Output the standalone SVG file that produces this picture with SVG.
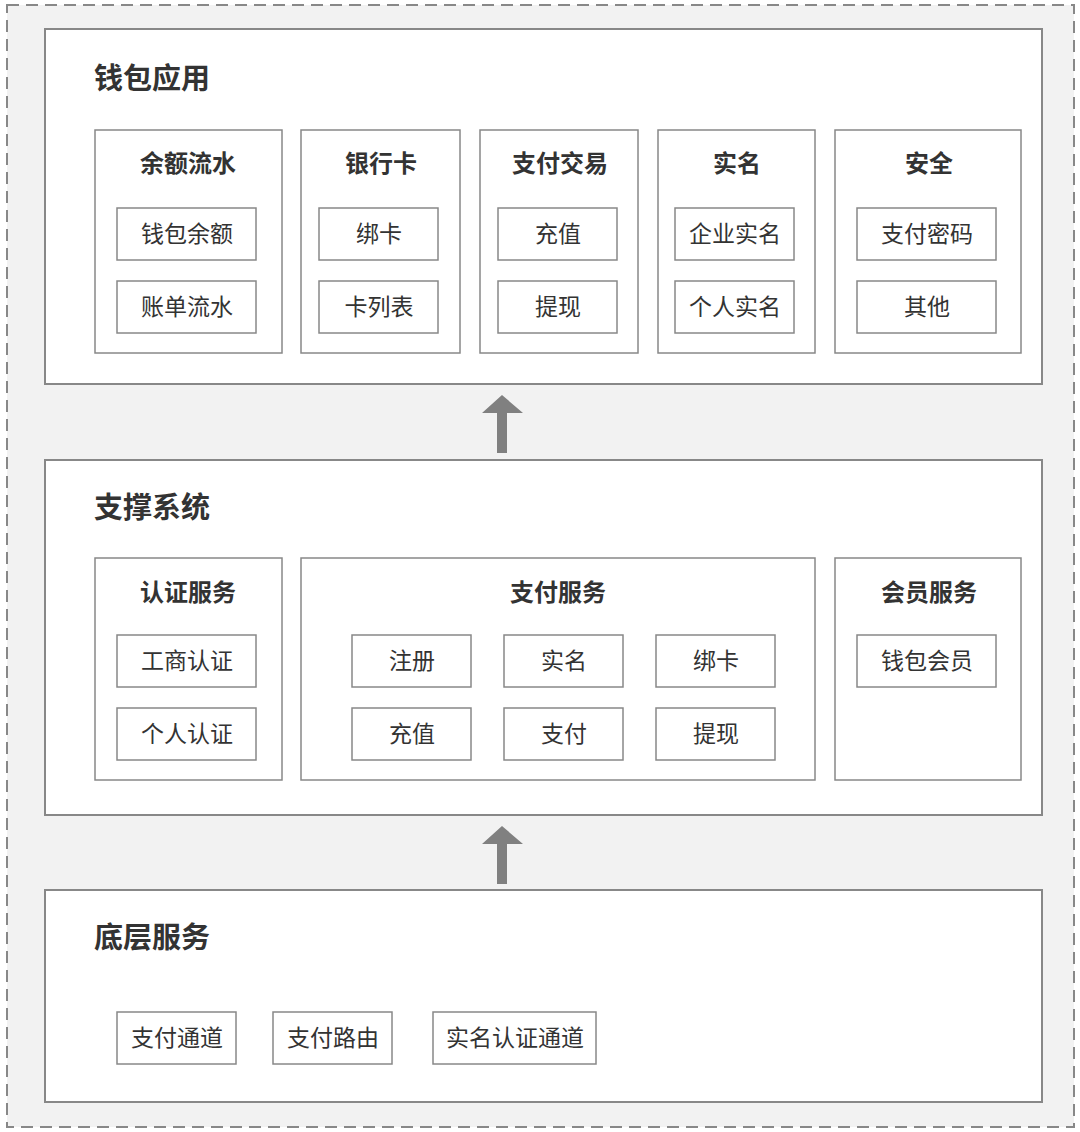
<svg xmlns="http://www.w3.org/2000/svg" width="1080" height="1132" viewBox="0 0 1080 1132">
<style>
.layer{fill:#fff;stroke:#888;stroke-width:2}
.grp{fill:#fff;stroke:#888;stroke-width:1.5}
.item{fill:#fff;stroke:#888;stroke-width:1.5}
text{font-family:"Noto Sans CJK SC",sans-serif;fill:#333;text-anchor:middle}
.lt{font-size:29px;font-weight:bold;text-anchor:start}
.gt{font-size:24px;font-weight:bold}
.it{font-size:23px}
.arr{fill:#808080}
</style>
<rect x="0" y="0" width="1080" height="1132" fill="#fff"/>
<rect x="7" y="5" width="1067" height="1122" fill="#f2f2f2" stroke="#888" stroke-width="2" stroke-dasharray="12,7"/>
<g id="app">
<rect class="layer" x="45" y="29" width="997" height="355"/>
<text class="lt" x="94" y="89">钱包应用</text>
<g id="g1"><rect class="grp" x="95" y="130" width="187" height="223"/><text class="gt" x="188" y="172">余额流水</text>
<rect class="item" x="117" y="208" width="139" height="52"/><text class="it" x="187" y="242">钱包余额</text>
<rect class="item" x="117" y="281" width="139" height="52"/><text class="it" x="187" y="315">账单流水</text></g>
<g id="g2"><rect class="grp" x="301" y="130" width="159" height="223"/><text class="gt" x="381" y="172">银行卡</text>
<rect class="item" x="319" y="208" width="119" height="52"/><text class="it" x="379" y="242">绑卡</text>
<rect class="item" x="319" y="281" width="119" height="52"/><text class="it" x="379" y="315">卡列表</text></g>
<g id="g3"><rect class="grp" x="480" y="130" width="158" height="223"/><text class="gt" x="560" y="172">支付交易</text>
<rect class="item" x="498" y="208" width="119" height="52"/><text class="it" x="558" y="242">充值</text>
<rect class="item" x="498" y="281" width="119" height="52"/><text class="it" x="558" y="315">提现</text></g>
<g id="g4"><rect class="grp" x="658" y="130" width="157" height="223"/><text class="gt" x="737" y="172">实名</text>
<rect class="item" x="675" y="208" width="119" height="52"/><text class="it" x="735" y="242">企业实名</text>
<rect class="item" x="675" y="281" width="119" height="52"/><text class="it" x="735" y="315">个人实名</text></g>
<g id="g5"><rect class="grp" x="835" y="130" width="186" height="223"/><text class="gt" x="929" y="172">安全</text>
<rect class="item" x="857" y="208" width="139" height="52"/><text class="it" x="927" y="242">支付密码</text>
<rect class="item" x="857" y="281" width="139" height="52"/><text class="it" x="927" y="315">其他</text></g>
</g>
<g id="support">
<rect class="layer" x="45" y="460" width="997" height="355"/>
<text class="lt" x="94" y="518">支撑系统</text>
<g id="s1"><rect class="grp" x="95" y="558" width="187" height="222"/><text class="gt" x="188" y="601">认证服务</text>
<rect class="item" x="117" y="635" width="139" height="52"/><text class="it" x="187" y="669">工商认证</text>
<rect class="item" x="117" y="708" width="139" height="52"/><text class="it" x="187" y="742">个人认证</text></g>
<g id="s2"><rect class="grp" x="301" y="558" width="514" height="222"/><text class="gt" x="558" y="601">支付服务</text>
<rect class="item" x="352" y="635" width="119" height="52"/><text class="it" x="412" y="669">注册</text>
<rect class="item" x="504" y="635" width="119" height="52"/><text class="it" x="564" y="669">实名</text>
<rect class="item" x="656" y="635" width="119" height="52"/><text class="it" x="716" y="669">绑卡</text>
<rect class="item" x="352" y="708" width="119" height="52"/><text class="it" x="412" y="742">充值</text>
<rect class="item" x="504" y="708" width="119" height="52"/><text class="it" x="564" y="742">支付</text>
<rect class="item" x="656" y="708" width="119" height="52"/><text class="it" x="716" y="742">提现</text></g>
<g id="s3"><rect class="grp" x="835" y="558" width="186" height="222"/><text class="gt" x="929" y="601">会员服务</text>
<rect class="item" x="857" y="635" width="139" height="52"/><text class="it" x="927" y="669">钱包会员</text></g>
</g>
<g id="base">
<rect class="layer" x="45" y="890" width="997" height="212"/>
<text class="lt" x="94" y="948">底层服务</text>
<rect class="item" x="117" y="1012" width="119" height="52"/><text class="it" x="177" y="1046">支付通道</text>
<rect class="item" x="273" y="1012" width="119" height="52"/><text class="it" x="333" y="1046">支付路由</text>
<rect class="item" x="433" y="1012" width="163" height="52"/><text class="it" x="515" y="1046">实名认证通道</text>
</g>
<g id="connectors">
<path class="arr" d="M497,453 V413 H482 L502,395 L523,413 H507 V453 Z"/>
<path class="arr" d="M497,884 V844 H482 L502,826 L523,844 H507 V884 Z"/>
</g>
</svg>
